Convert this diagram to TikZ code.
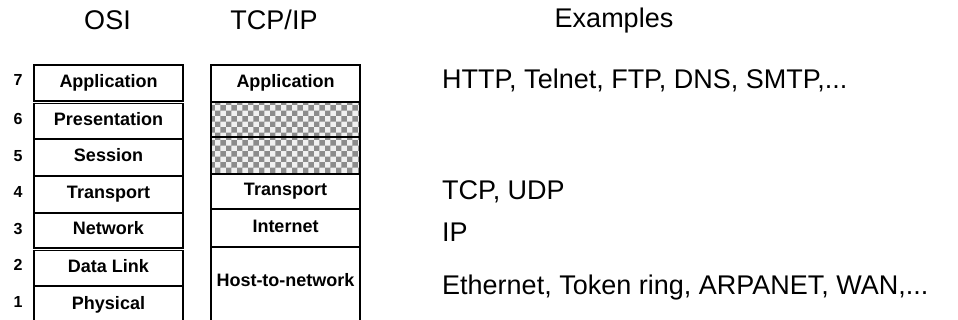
\documentclass[tikz,border=0pt]{standalone}
\usepackage{fontspec}
\setmainfont{Liberation Sans}
\usetikzlibrary{patterns}
\begin{document}
\begin{tikzpicture}[x=1pt,y=-1pt,
  labelfont/.style={font=\fontsize{18}{18}\selectfont\bfseries, text height=12.4pt, text depth=4pt},
  layerbox/.style={draw, line width=1.2pt, anchor=north west, inner sep=0pt, outer sep=0pt,
    minimum width=149pt, labelfont},
  hatched/.style={layerbox, preaction={fill=gray!12}, pattern=checkerboard, pattern color=black!45},
  layernum/.style={inner sep=0pt, font=\fontsize{16}{16}\selectfont\bfseries, text height=11pt, text depth=0pt},
  header/.style={inner sep=0pt, font=\fontsize{27}{27}\selectfont, text height=18.6pt, text depth=0pt},
  example/.style={header, anchor=west}]
\useasboundingbox (0,0) rectangle (958,320);
\clip (0,0) rectangle (958,320);

% column headings
\node[header] (hosi) at (107.5,20) {OSI};
\node[header] (htcp) at (274,20) {TCP/IP};
\node[header] (hex)  at (614,18) {Examples};

% OSI reference model
\node[layerbox, minimum height=36pt] (o7) at (34,65)    {Application};
\node[layerbox, minimum height=35.5pt] (o6) at (34,103.5) {Presentation};
\node[layerbox, minimum height=37pt] (o5) at (34,139)   {Session};
\node[layerbox, minimum height=37pt] (o4) at (34,176)   {Transport};
\node[layerbox, minimum height=35pt] (o3) at (34,213)   {Network};
\node[layerbox, minimum height=35.5pt] (o2) at (34,250.5) {Data Link};
\node[layerbox, minimum height=39pt] (o1) at (34,286)   {Physical};

% layer numbers
\node[layernum] (n7) at (18,80.5) {7};
\node[layernum] (n6) at (18,119.5) {6};
\node[layernum] (n5) at (18,156) {5};
\node[layernum] (n4) at (18,192.5) {4};
\node[layernum] (n3) at (18,229) {3};
\node[layernum] (n2) at (18,265) {2};
\node[layernum] (n1) at (18,302) {1};

% TCP/IP model
\node[layerbox, minimum height=37pt] (t4) at (211,65)  {Application};
\node[hatched,  minimum height=35pt] (tx1) at (211,102) {};
\node[hatched,  minimum height=37pt] (tx2) at (211,137) {};
\node[layerbox, minimum height=35pt] (t3) at (211,174) {Transport};
\node[layerbox, minimum height=38pt] (t2) at (211,209) {Internet};
\node[layerbox, minimum height=78pt] (t1) at (211,247) {};
\node[labelfont, inner sep=0pt] (t1l) at (285.5,282) {Host-to-network};

% protocol examples
\node[example] (e4) at (442,79)  {HTTP, Telnet, FTP, DNS, SMTP,...};
\node[example] (e3) at (442,190) {TCP, UDP};
\node[example] (e2) at (442,232) {IP};
\node[example] (e1) at (442,285) {Ethernet, Token ring, ARPANET, WAN,...};
\end{tikzpicture}
\end{document}
